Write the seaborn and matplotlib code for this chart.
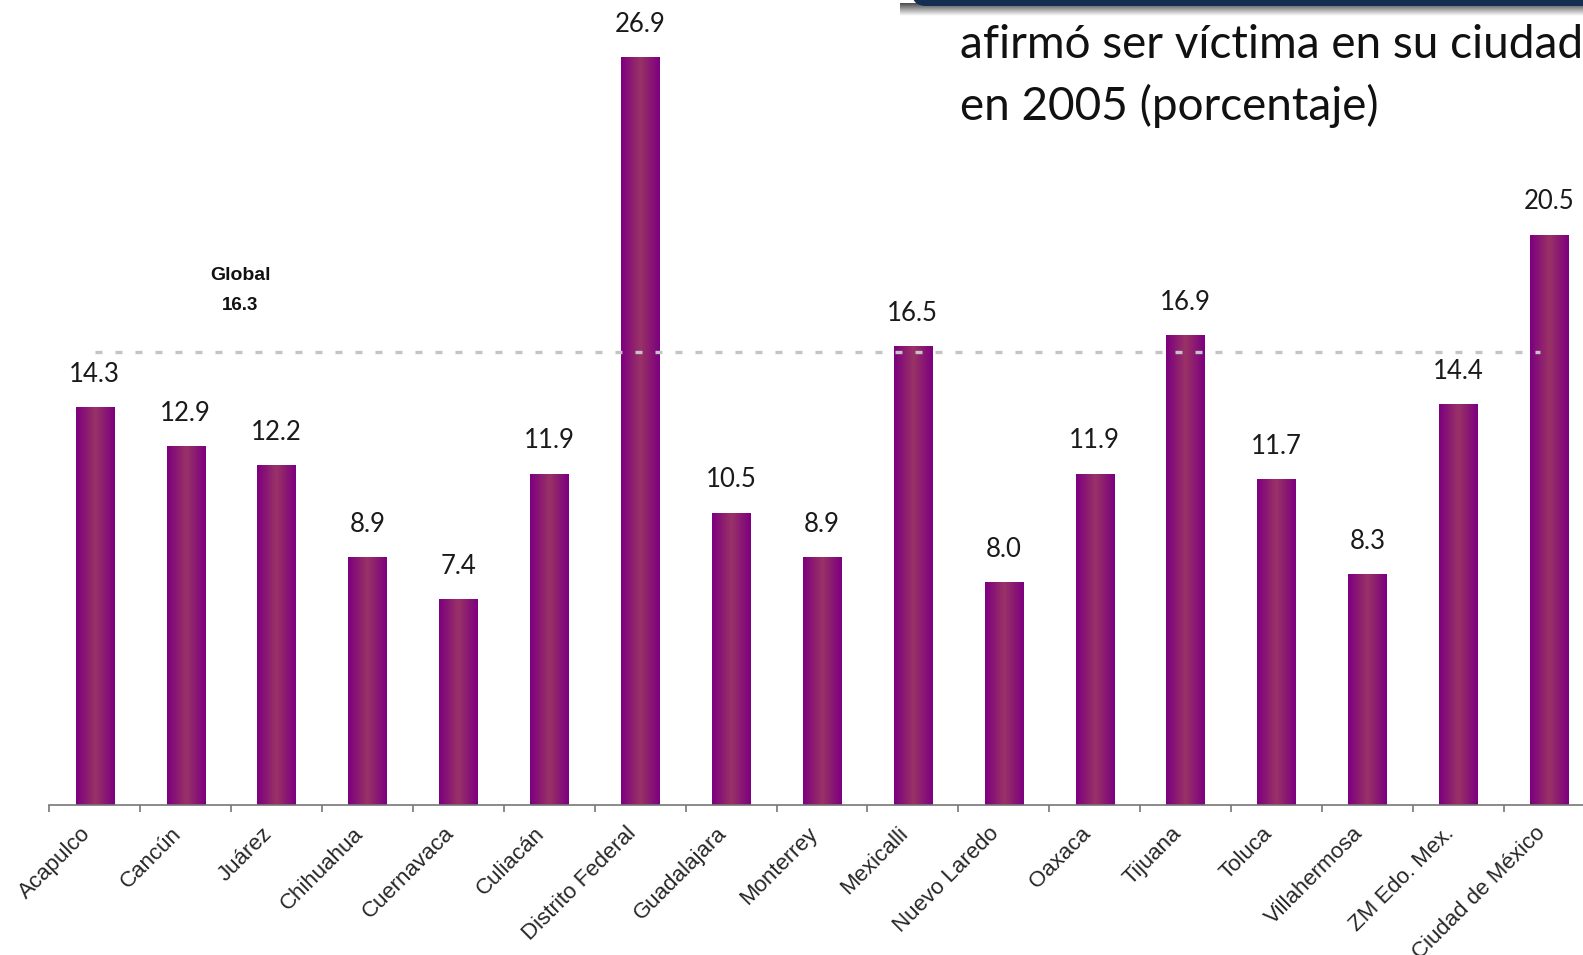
import numpy as np
import pandas as pd
import seaborn as sns
import matplotlib.pyplot as plt
from matplotlib.colors import LinearSegmentedColormap
from matplotlib.patches import FancyBboxPatch

# datos: porcentaje de poblacion que afirmo ser victima en su ciudad (2005)
ciudades = ['Acapulco', 'Cancún', 'Juárez', 'Chihuahua', 'Cuernavaca', 'Culiacán',
            'Distrito Federal', 'Guadalajara', 'Monterrey', 'Mexicalli', 'Nuevo Laredo',
            'Oaxaca', 'Tijuana', 'Toluca', 'Villahermosa', 'ZM Edo. Mex.',
            'Ciudad de México']
porcentajes = [14.3, 12.9, 12.2, 8.9, 7.4, 11.9, 26.9, 10.5, 8.9, 16.5, 8.0,
               11.9, 16.9, 11.7, 8.3, 14.4, 20.5]
global_valor = 16.3

df = pd.DataFrame({'ciudad': ciudades, 'pct': porcentajes})

sns.set_style('white')
plt.rcParams['font.family'] = ['Liberation Sans', 'DejaVu Sans']
fuente_titulo = ['Lato', 'DejaVu Sans']

fig = plt.figure(figsize=(15.83, 9.55), dpi=100)

# franja azul con sombra arriba a la derecha (detras de todo)
deco = fig.add_axes([0, 0, 1, 1], zorder=0)
deco.axis('off')
sombra = np.linspace(0.3, 1.0, 32).reshape(-1, 1)
deco.imshow(sombra, extent=[900, 1583, 16, 3], aspect='auto', cmap='gray',
            vmin=0, vmax=1)
deco.add_patch(FancyBboxPatch((912, -20), 700, 26, boxstyle='round,pad=0,rounding_size=14',
                              facecolor='#142f52', edgecolor='none'))
deco.set_xlim(0, 1583)
deco.set_ylim(955, 0)

ax = fig.add_axes([49.3 / 1583, 150 / 955, 1 - 49.3 / 1583, 805 / 955], zorder=1)
ax.patch.set_visible(False)

sns.barplot(data=df, x='ciudad', y='pct', color='#800080', width=0.42, ax=ax)

# etiquetas de valor
ax.bar_label(ax.containers[0], fmt='%.1f', padding=15, fontsize=18.5,
             fontfamily=fuente_titulo, color='#1a1a1a')

# degradado horizontal en cada barra
cmap = LinearSegmentedColormap.from_list('morado', ['#7d007f', '#993366', '#7d007f'])
grad = np.linspace(0, 1, 64).reshape(1, -1)
for p in ax.containers[0].patches:
    x0, w, h = p.get_x(), p.get_width(), p.get_height()
    ax.imshow(grad, extent=[x0, x0 + w, 0, h], aspect='auto', cmap=cmap, zorder=2)
    p.set_visible(False)

# linea del promedio global
ax.hlines(global_valor, 0, len(ciudades) - 1.1, colors='#c4c4c4', linewidth=2.4,
          linestyles=(0, (2.1, 3.9)), zorder=3)
ax.text(1.6, global_valor + 2.77, 'Global', ha='center', va='center',
        fontsize=14, fontweight='bold', color='#111111')
ax.text(1.6, global_valor + 1.69, f'{global_valor:.1f}', ha='center', va='center',
        fontsize=13.5, fontweight='bold', color='#111111')

ax.set_xlim(-0.5, -0.5 + 1533.7 / 90.9)
ax.set_ylim(0, 805 / 27.79)
ax.set_xlabel('')
ax.set_ylabel('')
ax.set_yticks([])

for s in ['left', 'right', 'top']:
    ax.spines[s].set_visible(False)
ax.spines['bottom'].set_color('#777777')
ax.spines['bottom'].set_linewidth(1.2)

ax.set_xticks(np.arange(len(ciudades)))
ax.set_xticklabels(ciudades, rotation=45, ha='right', fontsize=16)
ax.set_xticks(np.arange(len(ciudades)) - 0.5, minor=True)
ax.tick_params(axis='x', which='major', length=0, pad=13)
ax.tick_params(axis='x', which='minor', length=5, width=1.2, color='#777777',
               direction='out', bottom=True)

# titulo recortado en la esquina superior derecha
fig.text(960 / 1583, 1 - 45 / 955, 'afirmó ser víctima en su ciudad',
         fontsize=33, fontfamily=fuente_titulo, va='center', ha='left',
         color='#111111')
fig.text(960 / 1583, 1 - 106 / 955, 'en 2005 (porcentaje)',
         fontsize=33, fontfamily=fuente_titulo, va='center', ha='left',
         color='#111111')

fig.savefig('out.png', dpi=100)
